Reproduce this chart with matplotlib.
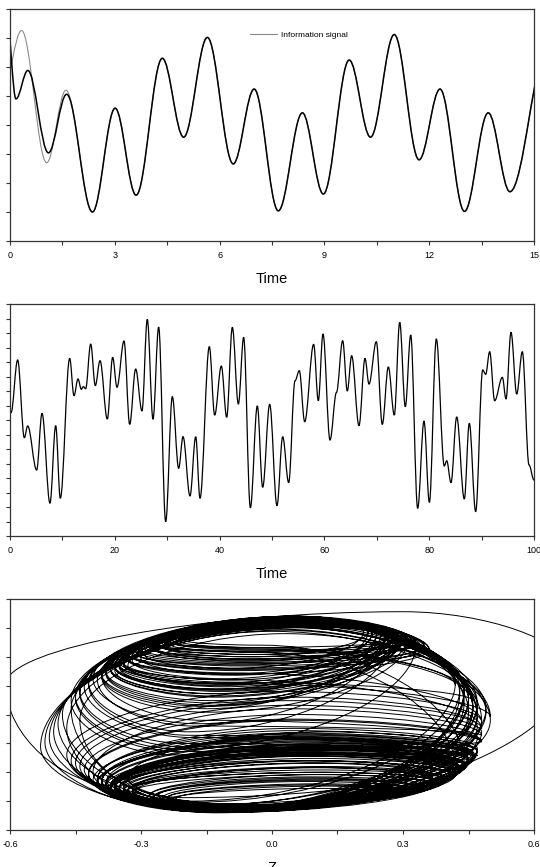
import matplotlib
matplotlib.use("Agg")
import matplotlib.pyplot as plt
from matplotlib.path import Path
from matplotlib.patches import PathPatch
from matplotlib.lines import Line2D
from matplotlib.ticker import MultipleLocator, FormatStrFormatter

plt.rcParams["font.family"] = ["Liberation Sans", "DejaVu Sans"]
plt.rcParams["axes.unicode_minus"] = False

# ---------- data (turning points) ----------
# panel 1: drive/response signal, extrema (time, value)
resp_t = [-0.08, 0.17, 0.51, 1.10, 1.62, 2.36, 3.01, 3.61, 4.36, 4.97, 5.65, 6.39,
          6.99, 7.68, 8.37, 8.97, 9.71, 10.32, 11.00, 11.71, 12.31, 13.01, 13.69,
          14.31, 15.40]
resp_v = [1.75, 0.45, 0.94, -0.48, 0.53, -1.50, 0.29, -1.21, 1.15, -0.21, 1.51, -0.67,
          0.62, -1.48, 0.21, -1.19, 1.12, -0.21, 1.56, -0.60, 0.62, -1.49, 0.21,
          -1.15, 1.35]
# information signal differs only at the start, then follows resp from t=2.36
info_t = [-0.20, 0.33, 1.05, 1.60]
info_v = [0.60, 1.63, -0.65, 0.60]

# panel 2: chaotic signal, extrema (time, value)
z_t = [0.20, 1.46, 2.74, 3.37, 5.09, 6.11, 7.63, 8.72, 9.60, 11.39, 12.21, 12.98,
       13.61, 13.99, 14.44, 15.40, 16.28, 17.18, 18.57, 19.59, 20.42, 21.76, 22.84,
       23.98, 25.19, 26.20, 27.29, 28.37, 29.71, 30.98, 32.19, 33.02, 34.35, 35.44,
       36.26, 38.04, 39.06, 40.33, 41.35, 42.43, 43.58, 44.59, 45.87, 47.20, 48.22,
       49.56, 50.95, 52.04, 53.18, 54.39, 55.21, 56.24, 57.95, 58.84, 59.73, 61.07,
       62.30, 63.49, 64.37, 65.20, 66.60, 67.75, 68.51, 69.91, 71.05, 72.20, 73.34,
       74.37, 75.44, 76.47, 77.80, 79.01, 80.03, 81.36, 82.88, 83.34, 84.16, 85.25,
       86.70, 87.65, 88.87, 90.21, 90.78, 91.54, 92.49, 93.96, 94.66, 95.61, 96.70,
       97.77, 99.05, 100.0]
z_v = [0.05, 0.414, -0.122, -0.041, -0.345, 0.046, -0.574, -0.039, -0.540, 0.425,
       0.168, 0.283, 0.212, 0.230, 0.216, 0.524, 0.237, 0.409, 0.007, 0.432, 0.226,
       0.545, -0.030, 0.352, 0.062, 0.694, 0.005, 0.641, -0.701, 0.161, -0.333,
       -0.115, -0.524, -0.115, -0.540, 0.506, 0.034, 0.372, 0.019, 0.639, 0.110,
       0.570, -0.605, 0.097, -0.464, 0.108, -0.591, -0.115, -0.432, 0.270, 0.340,
       -0.012, 0.522, 0.133, 0.593, -0.138, 0.190, 0.547, 0.200, 0.443, -0.039,
       0.425, 0.248, 0.540, -0.030, 0.366, 0.034, 0.674, 0.092, 0.586, -0.609,
       -0.007, -0.568, 0.559, -0.317, -0.281, -0.432, 0.021, -0.545, -0.023, -0.632,
       0.345, 0.315, 0.471, 0.133, 0.294, 0.145, 0.605, 0.179, 0.471, -0.310, -0.414]

# panel 3: phase portrait, turning points of each loop (bottom, left, top, right)
loop_bottom = [
    (-0.35, -0.62), (-0.08, -0.80), (-0.12, -0.83), (-0.05, -0.79), (-0.15, -0.84), (-0.18, -0.10),
    (-0.06, 0.45), (-0.10, 0.30), (-0.04, 0.55), (-0.14, 0.10), (-0.10, -0.81), (-0.06, -0.78),
    (-0.13, -0.85), (-0.20, -0.25), (-0.08, 0.38), (-0.12, 0.22), (-0.16, -0.82), (-0.09, -0.80),
    (-0.11, -0.84), (-0.07, -0.79), (-0.14, -0.83), (-0.16, -0.05), (-0.05, 0.50), (-0.09, 0.34),
    (-0.13, 0.15), (-0.18, -0.76), (-0.08, -0.82), (-0.12, -0.80), (-0.22, -0.35), (-0.07, 0.42),
    (-0.11, 0.26), (-0.03, 0.58), (-0.15, 0.05), (-0.14, -0.84), (-0.10, -0.81), (-0.06, -0.78),
    (-0.13, -0.85), (-0.09, -0.80), (-0.19, -0.18), (-0.08, 0.40), (-0.12, 0.20), (-0.16, -0.79),
    (-0.10, -0.83), (-0.07, -0.80), (-0.12, -0.82), (-0.20, -0.72), (-0.10, 0.28), (-0.05, 0.48),
    (-0.14, 0.08), (-0.21, -0.30), (-0.09, -0.81), (-0.13, -0.84), (-0.06, -0.79), (-0.11, -0.82),
    (-0.17, -0.80), (-0.09, 0.36), (-0.13, 0.18), (-0.04, 0.52), (-0.17, -0.08), (-0.15, -0.83),
    (-0.10, -0.80), (-0.08, -0.83), (-0.12, -0.81), (-0.18, -0.20), (-0.07, 0.44), (-0.11, 0.24),
    (-0.15, 0.02), (-0.14, -0.78), (-0.09, -0.82), (-0.06, -0.80), (-0.13, -0.84), (-0.20, -0.28),
    (-0.08, 0.39), (-0.12, 0.21), (-0.05, 0.54), (-0.19, -0.75), (-0.10, -0.81), (-0.07, -0.79),
    (-0.12, -0.83), (-0.16, -0.80), (-0.10, 0.30), (-0.14, 0.12), (-0.06, 0.47), (-0.19, -0.15),
    (-0.09, -0.82), (-0.11, -0.80), (-0.07, -0.84), (-0.17, -0.84), (-0.11, 0.27), (-0.07, 0.43),
    (-0.15, 0.07), (-0.12, -0.81), (-0.08, -0.79), (-0.14, -0.83), (-0.21, -0.32), (-0.09, 0.35),
    (-0.13, 0.16), (-0.10, -0.82),
    (-0.02, 0.60), (-0.05, 0.50), (-0.12, 0.25), (-0.06, -0.82), (-0.09, -0.80), (-0.11, -0.83),
    (-0.04, -0.79), (-0.15, -0.81), (-0.03, 0.56), (-0.10, 0.35), (-0.06, 0.46), (-0.14, 0.18),
    (-0.07, -0.81), (-0.10, -0.84), (-0.05, -0.80), (-0.13, -0.82), (-0.18, -0.78), (-0.04, 0.58),
    (-0.09, 0.40), (-0.05, 0.52), (-0.13, 0.22), (-0.08, -0.82), (-0.06, -0.79), (-0.11, -0.83),
    (-0.12, -0.81), (-0.03, 0.54), (-0.11, 0.31), (-0.06, 0.48), (-0.07, -0.80), (-0.10, -0.82),
    (-0.05, -0.81), (-0.16, -0.83), (-0.04, 0.57), (-0.12, 0.27), (-0.08, -0.81), (-0.12, -0.83)]
loop_left = [
    (-0.61, 0.26), (-0.36, -0.60), (-0.38, -0.66), (-0.33, -0.55), (-0.41, -0.50), (-0.40, 0.30),
    (-0.30, 0.55), (-0.35, 0.45), (-0.26, 0.60), (-0.38, 0.36), (-0.37, -0.62), (-0.32, -0.64),
    (-0.39, -0.58), (-0.44, 0.20), (-0.32, 0.50), (-0.36, 0.42), (-0.50, -0.15), (-0.35, -0.63),
    (-0.40, -0.60), (-0.34, -0.66), (-0.42, -0.52), (-0.39, 0.33), (-0.28, 0.57), (-0.33, 0.47),
    (-0.37, 0.39), (-0.46, -0.40), (-0.36, -0.64), (-0.38, -0.59), (-0.46, 0.12), (-0.31, 0.52),
    (-0.35, 0.43), (-0.24, 0.62), (-0.39, 0.34), (-0.53, -0.28), (-0.37, -0.65), (-0.31, -0.62),
    (-0.40, -0.56), (-0.36, -0.61), (-0.42, 0.26), (-0.32, 0.51), (-0.36, 0.41), (-0.44, -0.45),
    (-0.37, -0.63), (-0.33, -0.65), (-0.39, -0.58), (-0.48, 0.00), (-0.34, 0.44), (-0.27, 0.58),
    (-0.38, 0.35), (-0.45, 0.16), (-0.36, -0.62), (-0.41, -0.57), (-0.32, -0.67), (-0.38, -0.61),
    (-0.47, -0.35), (-0.33, 0.48), (-0.37, 0.40), (-0.26, 0.59), (-0.41, 0.31), (-0.51, -0.20),
    (-0.37, -0.64), (-0.34, -0.62), (-0.39, -0.57), (-0.43, 0.24), (-0.30, 0.53), (-0.35, 0.42),
    (-0.39, 0.33), (-0.43, -0.48), (-0.36, -0.63), (-0.32, -0.66), (-0.40, -0.59), (-0.44, 0.18),
    (-0.32, 0.50), (-0.36, 0.41), (-0.27, 0.60), (-0.49, -0.08), (-0.37, -0.62), (-0.34, -0.64),
    (-0.40, -0.56), (-0.45, -0.42), (-0.34, 0.45), (-0.38, 0.37), (-0.29, 0.55), (-0.42, 0.28),
    (-0.36, -0.63), (-0.38, -0.60), (-0.33, -0.65), (-0.52, -0.24), (-0.35, 0.43), (-0.31, 0.52),
    (-0.39, 0.35), (-0.39, -0.58), (-0.35, -0.64), (-0.42, -0.51), (-0.45, 0.14), (-0.33, 0.48),
    (-0.37, 0.39), (-0.37, -0.62),
    (-0.20, 0.64), (-0.24, 0.57), (-0.33, 0.42), (-0.25, -0.72), (-0.28, -0.70), (-0.35, -0.66),
    (-0.22, -0.73), (-0.46, 0.05), (-0.22, 0.61), (-0.30, 0.48), (-0.26, 0.55), (-0.36, 0.38),
    (-0.27, -0.71), (-0.33, -0.67), (-0.24, -0.72), (-0.38, -0.62), (-0.44, -0.05), (-0.21, 0.63),
    (-0.29, 0.51), (-0.25, 0.58), (-0.35, 0.41), (-0.26, -0.70), (-0.23, -0.73), (-0.34, -0.66),
    (-0.37, -0.63), (-0.23, 0.60), (-0.32, 0.46), (-0.27, 0.56), (-0.27, -0.71), (-0.32, -0.68),
    (-0.24, -0.72), (-0.47, -0.12), (-0.22, 0.62), (-0.34, 0.43), (-0.28, -0.70), (-0.36, -0.64)]
loop_top = [
    (0.30, 0.89), (0.10, -0.25), (0.06, -0.40), (0.12, -0.15), (0.03, 0.05), (0.05, 0.84),
    (0.10, 0.80), (0.06, 0.82), (0.12, 0.78), (0.04, 0.85), (0.08, -0.30), (0.11, -0.50),
    (0.05, -0.20), (0.03, 0.83), (0.09, 0.81), (0.07, 0.84), (0.02, 0.76), (0.09, -0.35),
    (0.06, -0.22), (0.12, -0.45), (0.04, -0.05), (0.05, 0.82), (0.11, 0.79), (0.08, 0.83),
    (0.06, 0.85), (0.05, 0.15), (0.10, -0.28), (0.07, -0.18), (0.02, 0.84), (0.10, 0.80),
    (0.07, 0.83), (0.13, 0.77), (0.05, 0.84), (0.00, 0.72), (0.08, -0.32), (0.12, -0.42),
    (0.05, -0.12), (0.09, -0.26), (0.04, 0.83), (0.09, 0.82), (0.06, 0.85), (0.04, 0.08),
    (0.08, -0.30), (0.11, -0.48), (0.06, -0.19), (0.05, 0.75), (0.07, 0.81), (0.11, 0.79),
    (0.05, 0.84), (0.03, 0.82), (0.09, -0.33), (0.05, -0.16), (0.12, -0.52), (0.07, -0.24),
    (0.03, 0.20), (0.08, 0.82), (0.06, 0.84), (0.12, 0.78), (0.04, 0.85), (0.01, 0.74),
    (0.08, -0.29), (0.10, -0.38), (0.06, -0.17), (0.04, 0.83), (0.10, 0.80), (0.07, 0.84),
    (0.05, 0.83), (0.05, 0.00), (0.09, -0.31), (0.11, -0.46), (0.06, -0.21), (0.03, 0.84),
    (0.09, 0.81), (0.06, 0.85), (0.12, 0.78), (0.04, 0.76), (0.08, -0.27), (0.11, -0.40),
    (0.05, -0.14), (0.04, 0.12), (0.07, 0.82), (0.05, 0.84), (0.10, 0.79), (0.04, 0.83),
    (0.09, -0.34), (0.07, -0.23), (0.12, -0.50), (0.02, 0.73), (0.07, 0.83), (0.09, 0.80),
    (0.05, 0.85), (0.06, -0.20), (0.10, -0.36), (0.04, -0.04), (0.03, 0.82), (0.08, 0.82),
    (0.06, 0.84), (0.08, -0.28),
    (0.08, 0.76), (0.10, 0.78), (0.06, 0.80), (0.08, -0.58), (0.10, -0.52), (0.07, -0.36),
    (0.12, -0.62), (0.04, 0.78), (0.09, 0.77), (0.07, 0.79), (0.11, 0.80), (0.05, 0.82),
    (0.09, -0.55), (0.08, -0.42), (0.11, -0.60), (0.06, -0.30), (0.03, 0.70), (0.09, 0.76),
    (0.08, 0.78), (0.10, 0.79), (0.06, 0.81), (0.10, -0.56), (0.12, -0.64), (0.08, -0.40),
    (0.07, -0.33), (0.10, 0.77), (0.07, 0.80), (0.09, 0.79), (0.09, -0.57), (0.10, -0.46),
    (0.11, -0.61), (0.03, 0.77), (0.08, 0.76), (0.06, 0.82), (0.09, -0.54), (0.07, -0.34)]
loop_right = [
    (0.68, 0.38), (0.45, -0.40), (0.42, -0.52), (0.46, -0.30), (0.48, -0.18), (0.33, 0.62),
    (0.28, 0.70), (0.31, 0.66), (0.26, 0.72), (0.44, 0.18), (0.44, -0.44), (0.38, -0.58),
    (0.47, -0.36), (0.35, 0.58), (0.30, 0.68), (0.46, 0.05), (0.49, 0.05), (0.43, -0.47),
    (0.46, -0.35), (0.40, -0.55), (0.48, -0.24), (0.33, 0.61), (0.27, 0.71), (0.30, 0.67),
    (0.43, 0.22), (0.47, -0.10), (0.44, -0.42), (0.46, -0.33), (0.36, 0.56), (0.29, 0.69),
    (0.31, 0.65), (0.24, 0.73), (0.47, 0.00), (0.50, -0.05), (0.43, -0.45), (0.39, -0.53),
    (0.47, -0.29), (0.45, -0.39), (0.34, 0.59), (0.29, 0.68), (0.45, 0.12), (0.48, -0.15),
    (0.44, -0.43), (0.40, -0.56), (0.46, -0.34), (0.46, 0.12), (0.31, 0.66), (0.27, 0.71),
    (0.33, 0.61), (0.48, -0.05), (0.43, -0.46), (0.47, -0.32), (0.37, -0.60), (0.45, -0.38),
    (0.48, -0.06), (0.30, 0.67), (0.32, 0.63), (0.26, 0.72), (0.44, 0.20), (0.49, 0.02),
    (0.44, -0.43), (0.42, -0.50), (0.46, -0.33), (0.35, 0.58), (0.28, 0.70), (0.31, 0.64),
    (0.46, 0.08), (0.47, -0.20), (0.44, -0.44), (0.39, -0.55), (0.46, -0.36), (0.35, 0.57),
    (0.29, 0.68), (0.32, 0.63), (0.42, 0.28), (0.47, 0.08), (0.45, -0.41), (0.41, -0.52),
    (0.47, -0.31), (0.48, -0.12), (0.31, 0.66), (0.33, 0.61), (0.28, 0.70), (0.47, -0.02),
    (0.43, -0.47), (0.45, -0.38), (0.38, -0.57), (0.50, -0.02), (0.31, 0.65), (0.29, 0.69),
    (0.45, 0.15), (0.46, -0.35), (0.42, -0.49), (0.48, -0.23), (0.36, 0.56), (0.30, 0.67),
    (0.44, 0.10), (0.44, -0.42),
    (0.22, 0.72), (0.25, 0.70), (0.46, 0.05), (0.30, -0.63), (0.34, -0.58), (0.41, -0.50),
    (0.26, -0.66), (0.42, 0.25), (0.23, 0.71), (0.28, 0.68), (0.26, 0.69), (0.43, 0.18),
    (0.32, -0.61), (0.38, -0.54), (0.28, -0.64), (0.43, -0.45), (0.44, 0.20), (0.21, 0.72),
    (0.27, 0.69), (0.24, 0.71), (0.47, 0.10), (0.31, -0.60), (0.25, -0.67), (0.40, -0.52),
    (0.42, -0.47), (0.23, 0.72), (0.29, 0.67), (0.44, 0.22), (0.33, -0.61), (0.37, -0.56),
    (0.27, -0.65), (0.45, 0.15), (0.22, 0.72), (0.45, 0.02), (0.33, -0.59), (0.42, -0.48)]

GRAY = "#8a8a8a"


# ---------- helpers ----------
def extrema_path(ts, vs, k=0.36):
    """Smooth curve through extrema: horizontal tangent at every point."""
    verts = [(ts[0], vs[0])]
    codes = [Path.MOVETO]
    for (t0, v0), (t1, v1) in zip(zip(ts[:-1], vs[:-1]), zip(ts[1:], vs[1:])):
        dt = t1 - t0
        verts += [(t0 + k * dt, v0), (t1 - k * dt, v1), (t1, v1)]
        codes += [Path.CURVE4] * 3
    return Path(verts, codes)


def loop_path(bottom, left, top, right, k=0.5):
    """Quarter-ellipse arcs through bottom -> left -> top -> right turning points."""
    pts = []
    for b, l, t, r in zip(bottom, left, top, right):
        pts += [(b, "h"), (l, "v"), (t, "h"), (r, "v")]
    verts = [pts[0][0]]
    codes = [Path.MOVETO]
    for (p0, s0), (p1, _) in zip(pts[:-1], pts[1:]):
        (x0, y0), (x1, y1) = p0, p1
        if s0 == "h":
            c1 = (x0 + k * (x1 - x0), y0)
            c2 = (x1, y1 + k * (y0 - y1))
        else:
            c1 = (x0, y0 + k * (y1 - y0))
            c2 = (x1 + k * (x0 - x1), y1)
        verts += [c1, c2, (x1, y1)]
        codes += [Path.CURVE4] * 3
    return Path(verts, codes)


def style_axes(ax, xlim, xmaj, xmin, ylim, ymaj, ymin, xfmt):
    ax.set_xlim(*xlim)
    ax.set_ylim(*ylim)
    ax.xaxis.set_major_locator(MultipleLocator(xmaj))
    ax.xaxis.set_minor_locator(MultipleLocator(xmin))
    ax.yaxis.set_major_locator(MultipleLocator(ymaj))
    ax.yaxis.set_minor_locator(MultipleLocator(ymin))
    ax.xaxis.set_major_formatter(FormatStrFormatter(xfmt))
    ax.yaxis.set_major_formatter(FormatStrFormatter("%.1f"))
    ax.tick_params(which="both", direction="out", length=3, width=0.8,
                   labelsize=6.5, pad=4, top=False, right=False, color="#333")
    for s in ax.spines.values():
        s.set_linewidth(0.9)
        s.set_color("#333")


# ---------- figure ----------
fig = plt.figure(figsize=(5.4, 8.67), dpi=100)
ax1 = fig.add_axes([10 / 540, 1 - 241 / 867, 524 / 540, 232 / 867])
ax2 = fig.add_axes([10 / 540, 1 - 536 / 867, 524 / 540, 232 / 867])
ax3 = fig.add_axes([10 / 540, 1 - 830 / 867, 524 / 540, 231 / 867])

# panel 1
gray_t = info_t + resp_t[5:]
gray_v = info_v + resp_v[5:]
ax1.add_patch(PathPatch(extrema_path(gray_t, gray_v), fill=False, edgecolor=GRAY, lw=0.8))
ax1.add_patch(PathPatch(extrema_path(resp_t, resp_v), fill=False, edgecolor="black", lw=1.1))
style_axes(ax1, (0, 15), 3, 1.5, (-2, 2), 1, 0.5, "%d")
ax1.set_xlabel("Time", fontsize=10.5, labelpad=9)
ax1.legend(handles=[Line2D([], [], color=GRAY, lw=0.8)], labels=["Information signal"],
           loc="center left", bbox_to_anchor=(0.458, 0.888), frameon=False,
           fontsize=6, handlelength=3.3, handletextpad=0.4,
           borderpad=0, borderaxespad=0)

# panel 2
ax2.add_patch(PathPatch(extrema_path(z_t, z_v), fill=False, edgecolor="black", lw=0.9))
style_axes(ax2, (0, 100), 20, 10, (-0.8, 0.8), 0.2, 0.1, "%d")
ax2.set_xlabel("Time", fontsize=10.5, labelpad=9)

# panel 3
ax3.add_patch(PathPatch(loop_path(loop_bottom, loop_left, loop_top, loop_right),
                        fill=False, edgecolor="black", lw=0.7))
style_axes(ax3, (-0.6, 0.6), 0.3, 0.15, (-1, 1), 0.5, 0.25, "%.1f")
ax3.set_xlabel("Z", fontsize=10.5, labelpad=9)

fig.savefig("out.png", dpi=100, facecolor="white")
